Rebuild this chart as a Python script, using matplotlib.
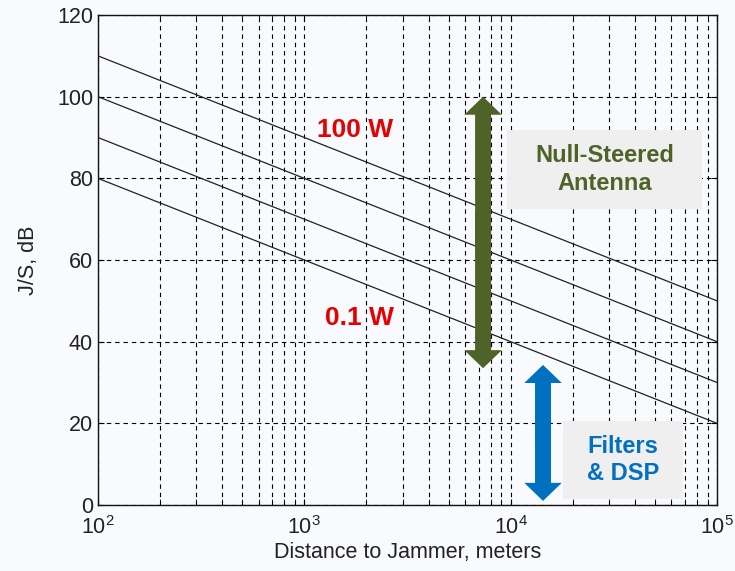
import matplotlib
matplotlib.use("Agg")
import matplotlib.pyplot as plt
from matplotlib.patches import FancyArrowPatch, Rectangle

plt.rcParams['font.family'] = ['Liberation Sans', 'DejaVu Sans']
plt.rcParams['mathtext.default'] = 'regular'

# Data
distance_m = [1e2, 1e5]
js_lines_db = [
    [110, 50],   # 100 W
    [100, 40],   # 10 W
    [90, 30],    # 1 W
    [80, 20],    # 0.1 W
]
x_ticks = [1e2, 1e3, 1e4, 1e5]
x_tick_labels = ['$10^{2}$', '$10^{3}$', '$10^{4}$', '$10^{5}$']
y_ticks = [0, 20, 40, 60, 80, 100, 120]

bg = '#f9fafd'
fig = plt.figure(figsize=(7.35, 5.71), dpi=100, facecolor=bg)
ax = fig.add_axes([0.1333, 0.1156, 0.8422, 0.8581], facecolor=bg)

for ys in js_lines_db:
    ax.plot(distance_m, ys, color='#222222', lw=0.9, zorder=3)

ax.set_xscale('log')
ax.set_xlim(1e2, 1e5)
ax.set_ylim(0, 120)
ax.set_xticks(x_ticks)
ax.set_xticklabels(x_tick_labels)
ax.set_yticks(y_ticks)
ax.tick_params(axis='both', which='both', direction='in', labelsize=15.5,
               top=True, right=True, length=4, labelcolor='#222222')
ax.tick_params(axis='x', which='major', pad=8)
ax.tick_params(axis='y', which='minor', left=False, right=False)

dash = (0, (4, 3.5))
ax.grid(True, which='both', axis='x', color='k', lw=0.8, ls=dash)
ax.grid(True, which='major', axis='y', color='k', lw=0.8, ls=dash)
ax.set_axisbelow(True)
for s in ax.spines.values():
    s.set_linewidth(1.0)
    s.set_color('#111111')

ax.set_xlabel('Distance to Jammer, meters', fontsize=15.5, labelpad=2,
              color='#222222')
ax.set_ylabel('J/S, dB', fontsize=15.5, labelpad=13, color='#222222')

# Red labels
ax.text(0.415, 0.765, '100 W', transform=ax.transAxes, color='#e60000',
        fontsize=19, fontweight='bold', ha='center', va='center', zorder=6)
ax.text(0.422, 0.382, '0.1 W', transform=ax.transAxes, color='#e60000',
        fontsize=19, fontweight='bold', ha='center', va='center', zorder=6)

# Boxes
ax.add_patch(Rectangle((0.661, 0.604), 0.315, 0.161, transform=ax.transAxes,
                       facecolor='#efefef', edgecolor='none', zorder=4))
ax.text(0.8185, 0.6845, 'Null-Steered\nAntenna', transform=ax.transAxes,
        color='#4f6228', fontsize=17, fontweight='bold', ha='center',
        va='center', linespacing=1.25, zorder=6)
ax.add_patch(Rectangle((0.751, 0.012), 0.194, 0.159, transform=ax.transAxes,
                       facecolor='#efefef', edgecolor='none', zorder=4))
ax.text(0.848, 0.092, 'Filters\n& DSP', transform=ax.transAxes,
        color='#0070c0', fontsize=17, fontweight='bold', ha='center',
        va='center', linespacing=1.25, zorder=6)

# Double arrows (two halves overlapping in the middle to avoid a seam)
def double_arrow(x, y_top, y_bot, color):
    ym = (y_top + y_bot) / 2
    ov = (y_top - y_bot) * 0.08
    style = 'simple,head_length=13,head_width=27,tail_width=11.5'
    for start, end in ((ym - ov, y_top), (ym + ov, y_bot)):
        ax.add_patch(FancyArrowPatch((x, start), (x, end), arrowstyle=style,
                                     mutation_scale=1, color=color, lw=0,
                                     shrinkA=0, shrinkB=0, zorder=5))

double_arrow(7350, 100, 33.5, '#4f6228')
double_arrow(14350, 34.3, 1.0, '#0070c0')

fig.savefig('out.png', dpi=100, facecolor=bg)
